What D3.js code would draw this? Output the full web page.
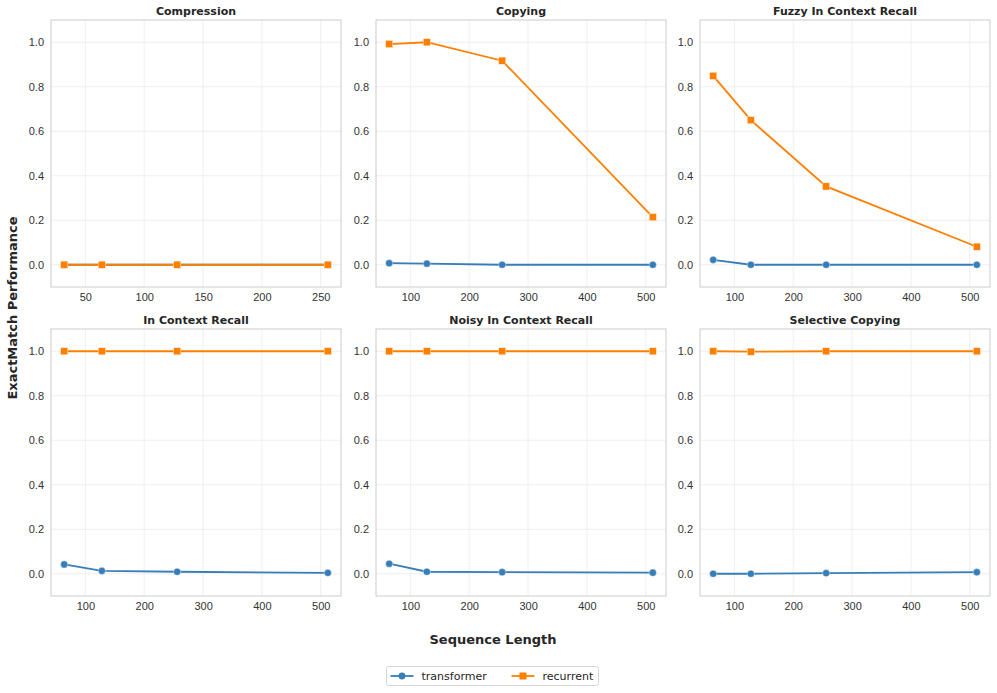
<!DOCTYPE html>
<html>
<head>
<meta charset="utf-8">
<style>
  body { margin: 0; background: #fff; }
  svg { display: block; font-family: "DejaVu Sans", sans-serif; }
  .grid line { stroke: #ebebeb; stroke-width: 0.8; }
  .tick text { fill: #333; font-size: 11px; }
</style>
</head>
<body>
<div id="chart"></div>
<script src="https://cdn.jsdelivr.net/npm/d3@7"></script>
<script>
// task panels, in reading order
const tasks = ["Compression", "Copying", "Fuzzy In Context Recall",
  "In Context Recall", "Noisy In Context Recall", "Selective Copying"];

// sequence lengths (compression was run on shorter ones)
const compressionLengths = [32, 64, 128, 256];
const seqLengths = [64, 128, 256, 512];

const transformerScores = [
  [0, 0, 0, 0],
  [0.007, 0.005, 0.0, 0.0],
  [0.022, 0.0, 0.0, 0.0],
  [0.042, 0.013, 0.009, 0.004],
  [0.045, 0.009, 0.007, 0.005],
  [0.0, 0.0, 0.003, 0.007]
];
const recurrentScores = [
  [0, 0, 0, 0],
  [0.992, 1.0, 0.917, 0.214],
  [0.849, 0.650, 0.352, 0.081],
  [1.0, 1.0, 1.0, 1.0],
  [1.0, 1.0, 1.0, 1.0],
  [1.0, 0.998, 1.0, 1.0]
];

const models = ["transformer", "recurrent"];
const colors = {transformer: "#377eb8", recurrent: "#ff7f00"};

const W = 997, H = 693;
const svg = d3.select("#chart").append("svg").attr("width", W).attr("height", H);

const colX = [51, 376, 700], pw = 290;
const rowY = [20, 329], ph = 267;

tasks.forEach(function(task, i) {
  const lengths = i === 0 ? compressionLengths : seqLengths;
  const x0 = colX[i % 3], y0 = rowY[Math.floor(i / 3)];
  const g = svg.append("g").attr("transform", "translate(" + x0 + "," + y0 + ")");

  const pad = (d3.max(lengths) - d3.min(lengths)) * 0.05;
  const x = d3.scaleLinear().domain([d3.min(lengths) - pad, d3.max(lengths) + pad]).range([0, pw]);
  const y = d3.scaleLinear().domain([-0.1, 1.1]).range([ph, 0]);
  const xticks = i === 0 ? [50, 100, 150, 200, 250] : [100, 200, 300, 400, 500];
  const yticks = [0, 0.2, 0.4, 0.6, 0.8, 1.0];

  // grid
  const grid = g.append("g").attr("class", "grid");
  grid.selectAll(".gx").data(xticks).enter().append("line")
    .attr("x1", d => x(d)).attr("x2", d => x(d)).attr("y1", 0).attr("y2", ph);
  grid.selectAll(".gy").data(yticks).enter().append("line")
    .attr("x1", 0).attr("x2", pw).attr("y1", d => y(d)).attr("y2", d => y(d));

  // axes
  const xa = g.append("g").attr("transform", "translate(0," + ph + ")")
    .call(d3.axisBottom(x).tickValues(xticks).tickSize(0).tickPadding(6).tickFormat(d3.format("d")));
  const ya = g.append("g")
    .call(d3.axisLeft(y).tickValues(yticks).tickSize(0).tickPadding(7).tickFormat(d3.format(".1f")));
  xa.select(".domain").remove();
  ya.select(".domain").remove();

  g.append("rect").attr("width", pw).attr("height", ph)
    .attr("fill", "none").attr("stroke", "#cccccc").attr("stroke-width", 1);

  g.append("text").attr("x", pw / 2).attr("y", -5).attr("text-anchor", "middle")
    .attr("font-size", 11).attr("font-weight", "bold").attr("fill", "#262626").text(task);

  const series = [
    {name: "transformer", vals: transformerScores[i]},
    {name: "recurrent", vals: recurrentScores[i]}
  ];
  const line = d3.line().x((d, j) => x(lengths[j])).y(d => y(d));

  series.forEach(function(s) {
    g.append("path").datum(s.vals).attr("d", line)
      .attr("fill", "none").attr("stroke", colors[s.name]).attr("stroke-width", 1.8);
    if (s.name === "transformer") {
      g.selectAll(null).data(s.vals).enter().append("circle")
        .attr("cx", (d, j) => x(lengths[j])).attr("cy", d => y(d)).attr("r", 3.6)
        .attr("fill", colors[s.name]).attr("stroke", "#fff").attr("stroke-width", 0.4);
    } else {
      g.selectAll(null).data(s.vals).enter().append("rect")
        .attr("x", (d, j) => x(lengths[j]) - 3.6).attr("y", d => y(d) - 3.6)
        .attr("width", 7.2).attr("height", 7.2)
        .attr("fill", colors[s.name]).attr("stroke", "#fff").attr("stroke-width", 0.4);
    }
  });
});

// shared axis labels
svg.append("text").attr("transform", "translate(17,308) rotate(-90)")
  .attr("text-anchor", "middle").attr("font-size", 13).attr("font-weight", "bold")
  .attr("fill", "#262626").text("ExactMatch Performance");
svg.append("text").attr("x", 493).attr("y", 644)
  .attr("text-anchor", "middle").attr("font-size", 13).attr("font-weight", "bold")
  .attr("fill", "#262626").text("Sequence Length");

// legend
const lg = svg.append("g").attr("transform", "translate(386.5,666.5)");
lg.append("rect").attr("width", 212).attr("height", 19).attr("rx", 2)
  .attr("fill", "#fff").attr("stroke", "#d6d6d6");
const lx = [4, 125];
models.forEach(function(m, k) {
  const it = lg.append("g").attr("transform", "translate(" + lx[k] + ",9.5)");
  it.append("line").attr("x1", 0).attr("x2", 23).attr("stroke", colors[m]).attr("stroke-width", 1.8);
  if (m === "transformer") {
    it.append("circle").attr("cx", 11.5).attr("r", 3.4).attr("fill", colors[m]);
  } else {
    it.append("rect").attr("x", 8).attr("y", -3.5).attr("width", 7).attr("height", 7).attr("fill", colors[m]);
  }
  it.append("text").attr("x", 31).attr("y", 4).attr("font-size", 11)
    .attr("fill", "#262626").text(m);
});
</script>
</body>
</html>
